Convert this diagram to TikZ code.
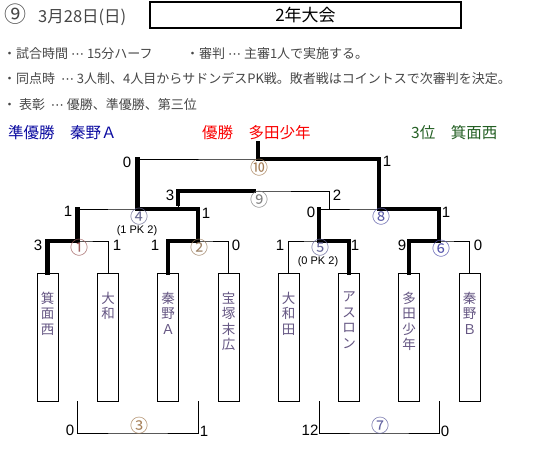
\documentclass[tikz,border=0pt]{standalone}
\usepackage{fontspec}
\setmainfont{Noto Sans CJK JP}
\newfontfamily\numfont{Liberation Sans}
\newfontfamily\symfont{DejaVu Sans}
\newcommand{\dotsep}{\ {\symfont ⋯}\ }
\usepackage{tikz}
\usetikzlibrary{positioning}
\definecolor{teamcol}{RGB}{100,85,130}
\definecolor{runblue}{RGB}{10,10,160}
\definecolor{winred}{RGB}{250,0,0}
\definecolor{thirdgreen}{RGB}{35,95,35}
\definecolor{notegray}{RGB}{70,70,70}

\begin{document}
\begin{tikzpicture}[
    x=1pt, y=-1pt,
    node distance=19pt,
    team/.style={draw, line width=0.9pt, minimum width=21pt, minimum height=128pt, inner sep=0pt},
    tname/.style={align=center, inner sep=0pt, text=teamcol, font=\fontsize{13.5}{15.5}\selectfont},
    line/.style={line width=0.9pt},
    win/.style={line width=4.5pt, line cap=rect, line join=miter},
    score/.style={inner sep=0pt, font=\numfont\fontsize{15}{15}\selectfont},
    mno/.style={inner sep=0pt, font=\fontsize{18}{18}\selectfont},
    pk/.style={inner sep=0pt, font=\numfont\fontsize{11}{11}\selectfont},
    note/.style={anchor=west, inner sep=0pt, text=notegray, font=\fontsize{13}{13}\selectfont},
    result/.style={anchor=west, inner sep=0pt, font=\fontsize{15.5}{16}\selectfont}
]
\useasboundingbox (0,0) rectangle (541,450);

\node[anchor=west, inner sep=0pt, text=notegray, font=\fontsize{16.5}{16.5}\selectfont] (date) at (4,15)
  {{\fontsize{22}{22}\selectfont ⑨}\hspace{12pt}3月28日(日)};
\node[draw, line width=1.1pt, minimum width=311pt, minimum height=26pt, inner sep=0pt,
      font=\fontsize{17}{17}\selectfont] (title) at (305.5,15) {2年大会};

\node[note] (rule1) at (3,54) {・試合時間\dotsep 15分ハーフ};
\node[note] (rule2) at (186,54) {・審判\dotsep 主審1人で実施する。};
\node[note] (rule3) at (3,79) {・同点時 \dotsep 3人制、4人目からサドンデスPK戦。敗者戦はコイントスで次審判を決定。};
\node[note] (rule4) at (3,105) {・ 表彰 \dotsep 優勝、準優勝、第三位};

\node[result, text=runblue] (second) at (8,133) {準優勝　秦野Ａ};
\node[result, text=winred] (first) at (202,133) {優勝　多田少年};
\node[result, text=thirdgreen] (third) at (411,133) {3位　箕面西};

\node[team] (t1) at (47.5,337) {};
\node[team] (t2) at (108,337) {};
\node[team] (t3) at (168,337) {};
\node[team] (t4) at (228.5,337) {};
\node[team] (t5) at (288.5,337) {};
\node[team] (t6) at (349,337) {};
\node[team] (t7) at (409,337) {};
\node[team] (t8) at (469.5,337) {};
\node[tname, below=of t1.north] (n1) {箕\\面\\西};
\node[tname, below=of t2.north] (n2) {大\\和};
\node[tname, below=of t3.north] (n3) {秦\\野\\Ａ};
\node[tname, below=of t4.north] (n4) {宝\\塚\\末\\広};
\node[tname, below=of t5.north] (n5) {大\\和\\田};
\node[tname, below=of t6.north] (n6) {ア\\ス\\ロ\\ン};
\node[tname, below=of t7.north] (n7) {多\\田\\少\\年};
\node[tname, below=of t8.north] (n8) {秦\\野\\Ｂ};

\coordinate (m1) at (77.5,241);
\coordinate (m2) at (198,241);
\coordinate (m5) at (319,241);
\coordinate (m6) at (439,241);
\coordinate (m4) at (137.5,209);
\coordinate (m8) at (379,209);
\coordinate (m10) at (258,159);
\coordinate (m9) at (253.5,191);
\coordinate (m9l) at (178,209);
\coordinate (m9r) at (329,209);
\coordinate (m3) at (138,433);
\coordinate (m7) at (379,433);

\draw[line] (t1.north) |- (m1) -| (t2.north);
\draw[line] (t3.north) |- (m2) -| (t4.north);
\draw[line] (t5.north) |- (m5) -| (t6.north);
\draw[line] (t7.north) |- (m6) -| (t8.north);
\draw[line] (m1) |- (m4) -| (m2);
\draw[line] (m5) |- (m8) -| (m6);
\draw[line] (m4) |- (m10) -| (m8);
\draw[line] (m9l) |- (m9) -| (m9r);
\draw[line] (m1 |- t1.south) |- (m3) -| (m2 |- t1.south);
\draw[line] (m5 |- t1.south) |- (m7) -| (m6 |- t1.south);

\draw[win] (t1.north) |- (m1) -- (m1 |- m4);
\draw[win] (t3.north) |- (m2) |- (m4) -- (m4 |- m10);
\draw[win] (t6.north) |- (m5) -- (m5 |- m8);
\draw[win] (t7.north) |- (m6) |- (m8) |- (m10) -- ++(0,-16);
\draw[win] ([yshift=5pt]m9l) |- (m9);

\node[mno, text=red!25!gray] (c1) at (79,248) {①};
\node[mno, text=brown!45!gray] (c2) at (199,248) {②};
\node[mno, text=orange!30!gray] (c3) at (139,426) {③};
\node[mno, text=blue!15!gray] (c4) at (139,217) {④};
\node[mno, text=blue!20!gray] (c5) at (320,248) {⑤};
\node[mno, text=blue!35!gray] (c6) at (441,249) {⑥};
\node[mno, text=blue!25!gray] (c7) at (380,426) {⑦};
\node[mno, text=blue!30!gray] (c8) at (381,217) {⑧};
\node[mno, text=gray] (c9) at (259,200) {⑨};
\node[mno, text=orange!30!gray] (c10) at (259,168) {⑩};
\node[pk] (pk4) at (137,231) {(1 PK 2)};
\node[pk] (pk5) at (318,262) {(0 PK 2)};

\node[score] (s1a) at (38,245) {3};
\node[score] (s1b) at (117,245) {1};
\node[score] (s2a) at (155,245) {1};
\node[score] (s2b) at (236,245) {0};
\node[score] (s5a) at (280,245) {1};
\node[score] (s5b) at (355,245) {1};
\node[score] (s6a) at (402,245) {9};
\node[score] (s6b) at (478,245) {0};
\node[score] (s4a) at (68,211) {1};
\node[score] (s4b) at (206,213) {1};
\node[score] (s8a) at (311,212) {0};
\node[score] (s8b) at (446,212) {1};
\node[score] (s9a) at (170,195) {3};
\node[score] (s9b) at (337,195) {2};
\node[score] (s10a) at (127,162) {0};
\node[score] (s10b) at (387,161) {1};
\node[score] (s3a) at (70,430) {0};
\node[score] (s3b) at (204,431) {1};
\node[score] (s7a) at (310,430) {12};
\node[score] (s7b) at (445,431) {0};
\end{tikzpicture}
\end{document}
